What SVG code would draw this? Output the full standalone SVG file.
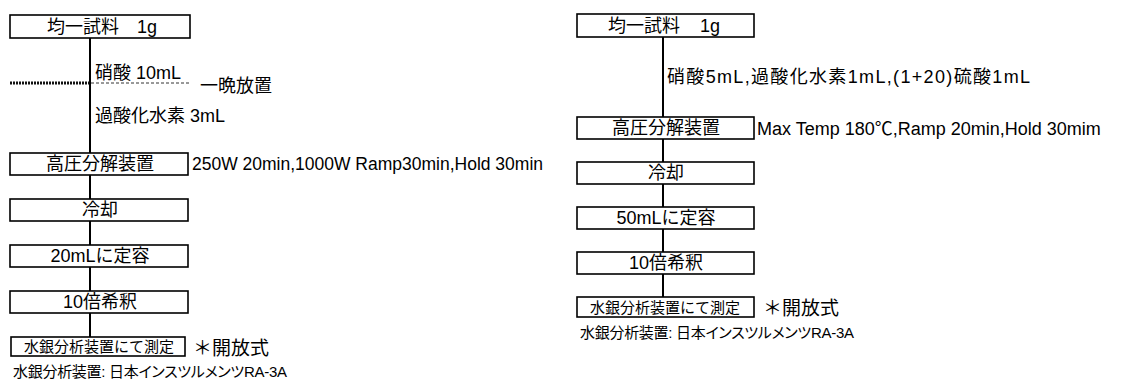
<svg xmlns="http://www.w3.org/2000/svg" width="1123" height="381" viewBox="0 0 1123 381">
<style>
text { font-family: "Liberation Sans", "Noto Sans CJK JP", sans-serif; fill: #000; }
.box rect { fill: #fff; stroke: #000; stroke-width: 1.6; }
.box text { font-size: 18px; text-anchor: middle; }
.box text.st { text-anchor: start; }
.box.small text { font-size: 15px; }
.lbl { font-size: 18px; }
.star { font-size: 19px; }
.note { font-size: 15px; font-feature-settings: "palt"; }
.conn line { stroke: #000; stroke-width: 2; }
.conn .thick { stroke: #111; stroke-width: 3; stroke-dasharray: 2 1; }
.conn .thin { stroke: #333; stroke-width: 1; stroke-dasharray: 3 2; }
</style>
<g id="connectors" class="conn">
  <line x1="90" y1="38" x2="90" y2="153"/>
  <line x1="90" y1="175" x2="90" y2="199"/>
  <line x1="90" y1="221" x2="90" y2="245"/>
  <line x1="90" y1="267" x2="90" y2="291"/>
  <line x1="90" y1="313" x2="90" y2="337"/>
  <line class="thick" x1="10" y1="83" x2="89" y2="83"/>
  <line class="thin" x1="91" y1="83" x2="190" y2="83"/>
  <line x1="663" y1="37" x2="663" y2="117"/>
  <line x1="663" y1="139" x2="663" y2="162"/>
  <line x1="663" y1="184" x2="663" y2="207"/>
  <line x1="663" y1="229" x2="663" y2="252"/>
  <line x1="663" y1="274" x2="663" y2="297"/>
</g>
<g id="L1" class="box"><rect x="10" y="15" width="180" height="23"/><text class="st" x="47" y="33">均一試料 <tspan x="137">1g</tspan></text></g>
<g id="L2" class="box"><rect x="10" y="153" width="178" height="22"/><text x="100" y="170">高圧分解装置</text></g>
<g id="L3" class="box"><rect x="10" y="199" width="178" height="22"/><text x="100" y="216">冷却</text></g>
<g id="L4" class="box"><rect x="10" y="245" width="178" height="22"/><text x="100" y="262">20mLに定容</text></g>
<g id="L5" class="box"><rect x="10" y="291" width="178" height="22"/><text x="100" y="308">10倍希釈</text></g>
<g id="L6" class="box small"><rect x="11" y="337" width="174" height="19"/><text x="99" y="352">水銀分析装置にて測定</text></g>
<g id="L-labels">
  <text class="lbl" x="95" y="79">硝酸 10mL</text>
  <text class="lbl" x="200" y="92">一晩放置</text>
  <text class="lbl" x="95" y="122">過酸化水素 3mL</text>
  <text class="lbl" x="192" y="170" style="font-size:17.5px" textLength="351">250W 20min,1000W Ramp30min,Hold 30min</text>
  <text class="star" x="193" y="355">＊開放式</text>
  <text class="note" x="13" y="377" textLength="274">水銀分析装置: 日本インスツルメンツRA-3A</text>
</g>
<g id="R1" class="box"><rect x="577" y="14" width="177" height="23"/><text class="st" x="608" y="32">均一試料 <tspan x="700">1g</tspan></text></g>
<g id="R2" class="box"><rect x="577" y="117" width="177" height="22"/><text x="666" y="134">高圧分解装置</text></g>
<g id="R3" class="box"><rect x="577" y="162" width="177" height="22"/><text x="666" y="179">冷却</text></g>
<g id="R4" class="box"><rect x="577" y="207" width="177" height="22"/><text x="666" y="224">50mLに定容</text></g>
<g id="R5" class="box"><rect x="577" y="252" width="177" height="22"/><text x="666" y="269">10倍希釈</text></g>
<g id="R6" class="box small"><rect x="577" y="297" width="177" height="20"/><text x="665" y="313">水銀分析装置にて測定</text></g>
<g id="R-labels">
  <text class="lbl" x="667" y="83" textLength="363">硝酸5mL,過酸化水素1mL,(1+20)硫酸1mL</text>
  <text class="lbl" x="757" y="135">Max Temp 180℃,Ramp 20min,Hold 30mim</text>
  <text class="star" x="763" y="315">＊開放式</text>
  <text class="note" x="580" y="338" textLength="274">水銀分析装置: 日本インスツルメンツRA-3A</text>
</g>
</svg>
